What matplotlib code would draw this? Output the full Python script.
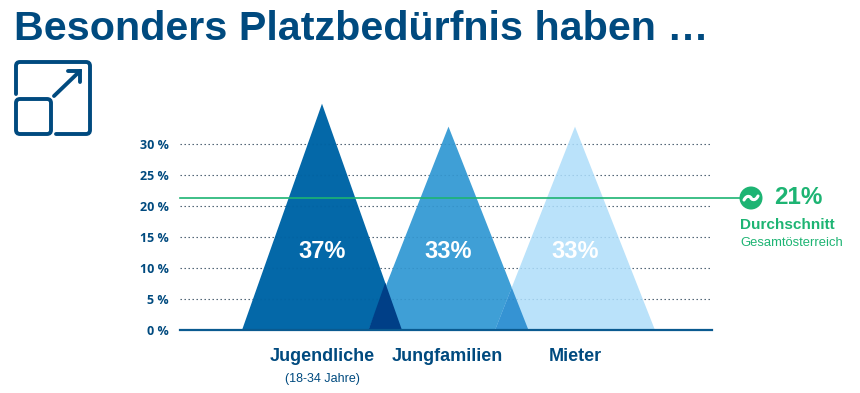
import matplotlib
matplotlib.use('Agg')
import matplotlib.pyplot as plt
from matplotlib.patches import Circle, FancyBboxPatch, PathPatch, Polygon
from matplotlib.path import Path

plt.rcParams['font.family'] = ['Liberation Sans', 'DejaVu Sans']

# Data
groups = ['Jugendliche', 'Jungfamilien', 'Mieter']
peak_heights = [36.5, 32.8, 32.8]
value_labels = ['37%', '33%', '33%']
y_ticks = [0, 5, 10, 15, 20, 25, 30]
average_line = 21.3

blue = '#004A7F'
green = '#1DB473'
tri_colors = ['#0468A8', '#3F9FD6', '#BAE2FA']
overlap_colors = ['#003F87', '#3593D3']
half_width = 0.632

fig = plt.figure(figsize=(8.6, 3.93), dpi=100)

# Overlay in pixel coordinates for the title, icon and notes
bg = fig.add_axes([0, 0, 1, 1])
bg.set_xlim(0, 860)
bg.set_ylim(393, 0)
bg.axis('off')

# Chart axes, x is the group position
ax = fig.add_axes([180 / 860, 1 - 330 / 393, 532 / 860, 186 / 393])
ax.set_xlim(-1.1225, 3.083)
ax.set_ylim(0, 30)
ax.patch.set_alpha(0)
for s in ax.spines.values():
    s.set_visible(False)

xs = range(len(groups))
for i in xs:
    ax.add_patch(Polygon([(i - half_width, 0), (i, peak_heights[i]), (i + half_width, 0)],
                         closed=True, fc=tri_colors[i], ec='none', clip_on=False, zorder=2))

# Overlaps of neighbouring triangles
for i in range(len(groups) - 1):
    left = i + 1 - half_width
    right = i + half_width
    mid = (left + right) / 2
    top = peak_heights[i] * (right - mid) / half_width
    ax.add_patch(Polygon([(left, 0), (mid, top), (right, 0)], closed=True,
                         fc=overlap_colors[i], ec='none', zorder=3))

ax.set_yticks(y_ticks)
ax.set_yticklabels(['%d %%' % t for t in y_ticks], family=['Open Sans', 'DejaVu Sans'],
                   fontsize=9, fontweight='bold', color=blue)
ax.set_xticks([])
ax.tick_params(axis='y', length=0, pad=8)
for t in y_ticks[1:]:
    ax.axhline(t, color='#5A6570', lw=0.8, ls=(0, (1.3, 2.3)), zorder=1, clip_on=False)
    ax.axhline(t, color=blue, lw=0.8, ls=(0, (1.3, 2.3)), alpha=0.15, zorder=4, clip_on=False)
ax.axhline(0, color='#0A5A90', lw=1.6, zorder=5, clip_on=False)
ax.plot([-1.1225, 3.304], [average_line, average_line], color=green, lw=1.2, zorder=6, clip_on=False)

for i in xs:
    ax.text(i, 12.6, value_labels[i], color='white', fontsize=17, fontweight='bold',
            ha='center', va='center', zorder=7)
label_x = [0, 0.99, 2.0]
for i in xs:
    ax.text(label_x[i], -4.2, groups[i], color=blue, fontsize=13, fontweight='bold',
            ha='center', va='center', clip_on=False)
ax.text(0, -7.9, '(18-34 Jahre)', color=blue, fontsize=9, ha='center', va='center')

# Title
bg.text(14, 29, 'Besonders Platzbedürfnis haben …', color=blue, fontsize=29.7,
        fontweight='bold', ha='left', va='center')

# Icon
lw = 2.8
outer = Path([(16, 94), (16, 66), (16, 62), (20, 62), (86, 62), (90, 62), (90, 66), (90, 130),
              (90, 134), (86, 134), (56, 134)],
             [Path.MOVETO, Path.LINETO, Path.CURVE3, Path.CURVE3, Path.LINETO, Path.CURVE3,
              Path.CURVE3, Path.LINETO, Path.CURVE3, Path.CURVE3, Path.LINETO])
bg.add_patch(PathPatch(outer, fc='none', ec=blue, lw=lw, capstyle='round'))
bg.add_patch(FancyBboxPatch((20, 103), 27, 27, boxstyle='round,pad=4,rounding_size=4',
                            fc='none', ec=blue, lw=lw))
bg.plot([54, 80], [96, 71], color=blue, lw=lw, solid_capstyle='round')
bg.plot([68, 80, 80], [71, 71, 82], color=blue, lw=lw, solid_capstyle='round',
        solid_joinstyle='miter')

# Average note, circle with a small wave in it
bg.add_patch(Circle((751, 198), 11.5, fc=green, ec='none', zorder=8))
wave = Path([(744, 200), (747, 194), (751, 197), (751, 198), (751, 199), (755, 202), (758, 196)],
            [Path.MOVETO, Path.CURVE4, Path.CURVE4, Path.CURVE4, Path.CURVE4, Path.CURVE4, Path.CURVE4])
bg.add_patch(PathPatch(wave, fc='none', ec='white', lw=2.2, capstyle='round', zorder=9))
bg.text(774, 198, '21%', color=green, fontsize=17.5, fontweight='bold', ha='left', va='center')
bg.text(740, 225, 'Durchschnitt', color=green, fontsize=11, fontweight='bold', ha='left', va='center')
bg.text(740, 243, 'Gesamtösterreich', color=green, fontsize=9.4, ha='left', va='center')

fig.savefig('out.png', dpi=100)
